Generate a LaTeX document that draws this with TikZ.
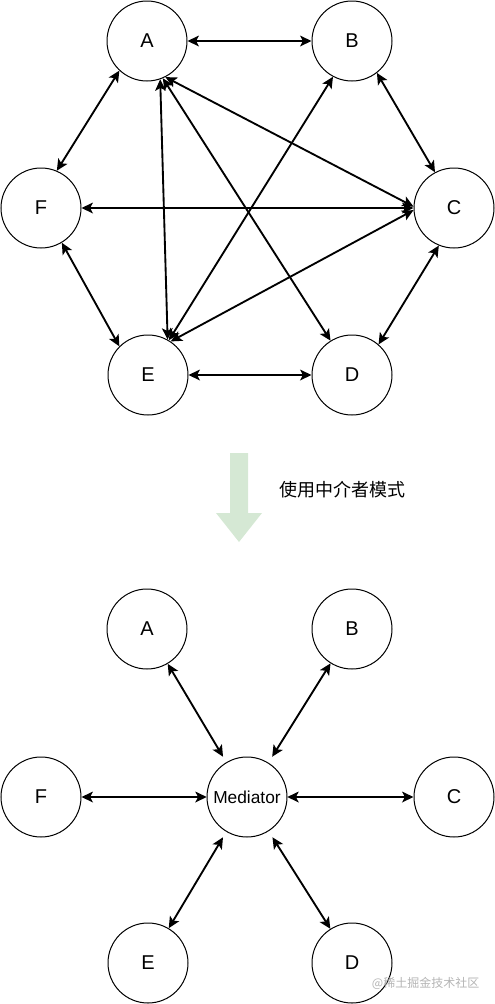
\documentclass[tikz,border=0pt]{standalone}
\usepackage{fontspec}
\setmainfont{Liberation Sans}
\newfontfamily\cjk{Noto Sans CJK SC}
\usetikzlibrary{arrows.meta}
\definecolor{softgreen}{HTML}{D5E8D4}
\definecolor{markgray}{HTML}{B4B4B4}

\begin{document}
\begin{tikzpicture}[x=0.75pt,y=-0.75pt,
  peer/.style={circle,draw,line width=0.75pt,minimum size=60pt,inner sep=0pt,font=\fontsize{15}{18}\selectfont},
  hub/.style={rectangle,minimum size=60pt,inner sep=0pt,font=\fontsize{13}{16}\selectfont},
  link/.style={<->,line width=1.4pt},
  >={Stealth[length=8.5pt,width=8pt,inset=2pt]}]

\useasboundingbox (0,0) rectangle (495,1004);

% before: every colleague talks to the others
\node[peer] (a) at (147,41) {A};
\node[peer] (b) at (352,41) {B};
\node[peer] (c) at (454,208) {C};
\node[peer] (d) at (352,375) {D};
\node[peer] (e) at (148,375) {E};
\node[peer] (f) at (41,208) {F};

\draw[link] (a) -- (b);
\draw[link] (b.-52) -- (c.118);
\draw[link] (c.-112) -- (d.49);
\draw[link] (e) -- (d);
\draw[link] (f.-59) -- (e.135);
\draw[link] (a.-133) -- (f.67);
\draw[link] (f) -- (c);
\draw[link] (a.-71) -- (e.61);
\draw[link] (a.-67) -- (d.122);
\draw[link] (a.-63) -- (c.178);
\draw[link] (b.-118) -- (e.59);
\draw[link] (c.183) -- (e.56);

% green arrow and caption
\fill[softgreen] (230,453) -- (248,453) -- (248,513) -- (262,513) -- (239,542) -- (216,513) -- (230,513) -- cycle;
\node[anchor=west,font=\cjk\fontsize{13.5}{16}\selectfont] (caption) at (275,490) {使用中介者模式};

% after: everyone goes through the mediator
\node[hub] (med) at (247,797) {Mediator};
\draw[line width=0.75pt] (med.center) circle[radius=30pt];

\node[peer] (ma) at (147,629) {A};
\node[peer] (mb) at (352,629) {B};
\node[peer] (mc) at (454,797) {C};
\node[peer] (md) at (352,963) {D};
\node[peer] (me) at (148,963) {E};
\node[peer] (mf) at (41,797) {F};

\draw[link] (ma) -- (med);
\draw[link] (mb) -- (med);
\draw[link] (mf) -- (med);
\draw[link] (mc) -- (med);
\draw[link] (me) -- (med);
\draw[link] (md) -- (med);

% watermark
\node[anchor=east,text=markgray,font=\cjk\fontsize{9}{11}\selectfont] (mark) at (484,983) {@稀土掘金技术社区};

\end{tikzpicture}
\end{document}
